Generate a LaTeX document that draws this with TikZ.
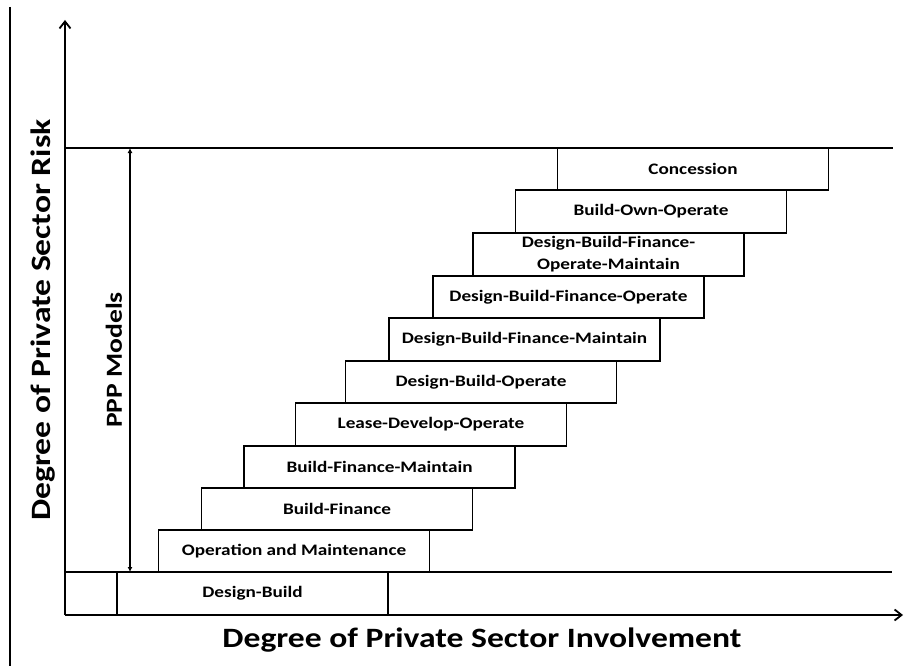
\documentclass[tikz,border=0pt]{standalone}
\usepackage{fontspec}
\setmainfont{Carlito}[FakeStretch=1.2]
\usetikzlibrary{arrows.meta,positioning}
\tikzset{
  stepbox/.style={draw, line width=1.8pt, minimum width=271pt, minimum height=42.4pt,
                  inner sep=0pt, font=\fontsize{16}{22}\selectfont\bfseries, align=center},
  axisline/.style={line width=1.8pt},
  axisarrow/.style={-{Straight Barb[length=7pt,width=11pt]}, line width=1.8pt},
  spanarrow/.style={{Latex[length=5pt,width=5pt]}-{Latex[length=5pt,width=5pt]}, line width=1.5pt},
  axislabel/.style={font=\fontsize{28}{32}\selectfont\bfseries}
}

\begin{document}
\begin{tikzpicture}[x=1pt, y=-1pt]
    \useasboundingbox (0,0) rectangle (904,666);
    \def\yTop{148} \def\yBot{572} \def\yAxis{615} \def\xAxis{65}

    % frame and axes
    \coordinate (frameTop) at (10,7);
    \coordinate (frameBot) at (10,666);
    \coordinate (origin) at (\xAxis,\yAxis);
    \coordinate (ytip) at (\xAxis,20);
    \coordinate (xtip) at (903,\yAxis);
    \draw[axisline] (frameTop) -- (frameBot);
    \draw[axisarrow] (origin) -- (ytip);
    \draw[axisarrow] (origin) -- (xtip);

    % risk band
    \coordinate (topL) at (\xAxis,\yTop);
    \coordinate (topR) at (893,\yTop);
    \coordinate (botL) at (\xAxis,\yBot);
    \coordinate (botR) at (892,\yBot);
    \draw[axisline] (topL) -- (topR);
    \draw[axisline] (botL) -- (botR);

    % PPP models span
    \coordinate (pppTop) at (130,\yTop);
    \coordinate (pppBot) at (130,\yBot);
    \draw[spanarrow] (pppTop) -- (pppBot);
    \node[font=\fontsize{23}{26}\selectfont\bfseries, rotate=90] (ppp) at (114,360) {PPP Models};

    % steps
    \node[stepbox, minimum height=43pt] (db) at (252.5,593.5) {Design-Build};
    \node[stepbox] (om)    at (294,551)   {Operation and Maintenance};
    \node[stepbox] (bf)    at (337,509)   {Build-Finance};
    \node[stepbox] (bfm)   at (379.5,467) {Build-Finance-Maintain};
    \node[stepbox] (ldo)   at (431,424.5) {Lease-Develop-Operate};
    \node[stepbox] (dbo)   at (481,382)   {Design-Build-Operate};
    \node[stepbox] (dbfm)  at (524.5,339.5) {Design-Build-Finance-Maintain};
    \node[stepbox] (dbfo)  at (568.5,297) {Design-Build-Finance-Operate};
    \node[stepbox] (dbfom) at (608.5,254.5) {Design-Build-Finance-\\Operate-Maintain};
    \node[stepbox] (boo)   at (651,211.5) {Build-Own-Operate};
    \node[stepbox] (conc)  at (693,169)   {Concession};

    % axis titles
    \node[axislabel, rotate=90] (ylab) at (43,320) {Degree of Private Sector Risk};
    \node[axislabel] (xlab) at (482,640) {Degree of Private Sector Involvement};
\end{tikzpicture}
\end{document}
